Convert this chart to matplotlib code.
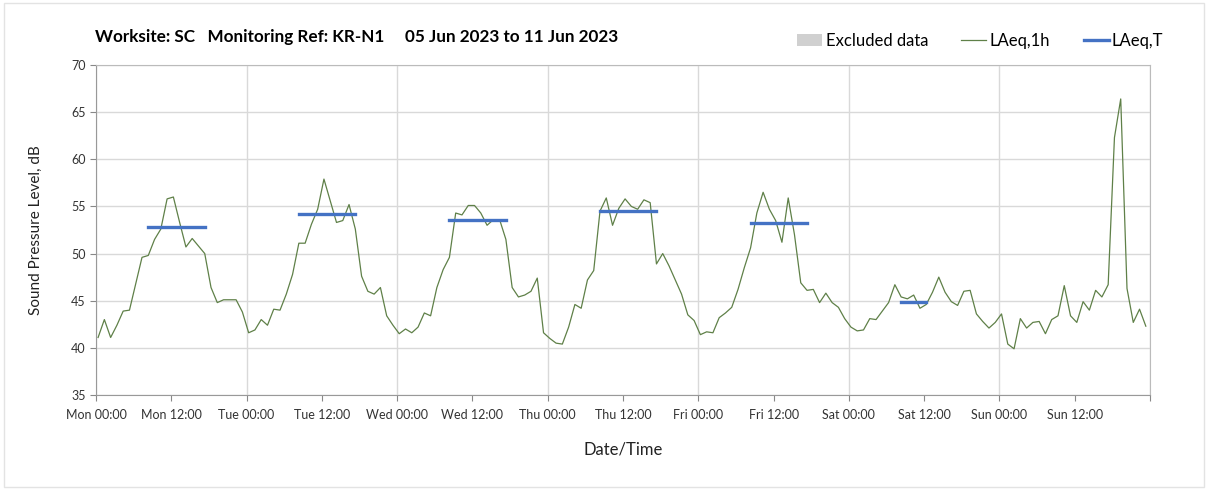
import pandas as pd
import matplotlib
matplotlib.use("Agg")
import matplotlib.pyplot as plt
import matplotlib.dates as mdates
from matplotlib.patches import Patch, Rectangle
from matplotlib.lines import Line2D

plt.rcParams['font.family'] = ['Lato', 'DejaVu Sans']

# hourly LAeq,1h values, one list per day (05-11 Jun 2023)
mon = [41.1, 43.0, 41.1, 42.4, 43.9, 44.0, 46.8, 49.6, 49.8, 51.5, 52.6, 55.8,
       56.0, 53.3, 50.7, 51.6, 50.8, 50.0, 46.4, 44.8, 45.1, 45.1, 45.1, 43.8]
tue = [41.6, 41.9, 43.0, 42.4, 44.1, 44.0, 45.7, 47.8, 51.1, 51.1, 53.1, 54.7,
       57.9, 55.6, 53.3, 53.5, 55.2, 52.6, 47.6, 46.0, 45.7, 46.4, 43.4, 42.4]
wed = [41.5, 42.0, 41.6, 42.2, 43.7, 43.4, 46.4, 48.3, 49.6, 54.3, 54.1, 55.1,
       55.1, 54.3, 53.0, 53.6, 53.6, 51.5, 46.4, 45.4, 45.6, 46.0, 47.4, 41.6]
thu = [41.0, 40.5, 40.4, 42.2, 44.6, 44.2, 47.2, 48.2, 54.5, 55.9, 53.0, 54.8,
       55.8, 55.0, 54.7, 55.7, 55.4, 48.9, 50.0, 48.7, 47.2, 45.7, 43.5, 42.9]
fri = [41.4, 41.7, 41.6, 43.2, 43.7, 44.3, 46.2, 48.5, 50.6, 54.3, 56.5, 54.7,
       53.5, 51.2, 55.9, 52.0, 46.9, 46.1, 46.2, 44.8, 45.8, 44.8, 44.3, 43.1]
sat = [42.2, 41.8, 41.9, 43.1, 43.0, 43.9, 44.8, 46.7, 45.4, 45.2, 45.6, 44.2,
       44.6, 45.9, 47.5, 45.9, 44.9, 44.5, 46.0, 46.1, 43.6, 42.8, 42.1, 42.7]
sun = [43.6, 40.4, 39.9, 43.1, 42.1, 42.7, 42.8, 41.5, 43.0, 43.4, 46.6, 43.4,
       42.7, 44.9, 44.0, 46.1, 45.4, 46.7, 62.3, 66.4, 46.3, 42.7, 44.1, 42.3]
laeq_1h = mon + tue + wed + thu + fri + sat + sun

# LAeq,T periods (start / end of each assessed period) and levels
period_start = ["2023-06-05 08:20", "2023-06-06 08:20", "2023-06-07 08:20",
                "2023-06-08 08:20", "2023-06-09 08:20", "2023-06-10 08:20"]
period_end = ["2023-06-05 17:20", "2023-06-06 17:20", "2023-06-07 17:20",
              "2023-06-08 17:20", "2023-06-09 17:20", "2023-06-10 12:20"]
laeq_t = [52.8, 54.2, 53.6, 54.5, 53.2, 44.9]

times = pd.date_range("2023-06-05 00:20", periods=len(laeq_1h), freq="h")

green = '#5f8048'
blue = '#4472c4'
grid = '#d9d9d9'

fig = plt.figure(figsize=(12.08, 4.9), dpi=100)
ax = fig.add_axes([96 / 1208, 1 - 395 / 490, (1150 - 96) / 1208, 330 / 490])

ax.plot(times, laeq_1h, color=green, linewidth=0.9)
for s, e, v in zip(period_start, period_end, laeq_t):
    ax.plot([pd.Timestamp(s), pd.Timestamp(e)], [v, v], color=blue,
            linewidth=2.4, solid_capstyle='projecting')

ax.set_xlim(pd.Timestamp("2023-06-05 00:00"), pd.Timestamp("2023-06-12 00:00"))
ax.set_ylim(35, 70)
ax.set_yticks(range(35, 71, 5))
ax.xaxis.set_major_locator(mdates.HourLocator(byhour=[0, 12]))
ticks = ax.get_xticks()
ax.set_xticks(ticks)
labels = [mdates.num2date(t).strftime("%a %H:%M") for t in ticks]
labels[-1] = ""
ax.set_xticklabels(labels)

# vertical grid only at midnight
for t in ticks[::2]:
    ax.axvline(t, color=grid, linewidth=1.0, zorder=0)
ax.yaxis.grid(True, color=grid, linewidth=1.0)
ax.set_axisbelow(True)

ax.tick_params(axis='both', labelsize=9, colors='#888888', labelcolor='#333333',
               length=4, width=0.8)
ax.tick_params(axis='x', pad=6)
for pos in ['left', 'bottom']:
    ax.spines[pos].set_color('#999999')
for pos in ['top', 'right']:
    ax.spines[pos].set_color('#bbbbbb')

ax.set_ylabel("Sound Pressure Level, dB", fontsize=11, color='#222222', labelpad=20)
ax.set_xlabel("Date/Time", fontsize=12, color='#222222', labelpad=15)

fig.text(95 / 1208, 1 - 37 / 490,
         "Worksite: SC   Monitoring Ref: KR-N1     05 Jun 2023 to 11 Jun 2023",
         fontsize=12.3, fontweight='bold', va='center', ha='left')

handles = [Patch(facecolor='#d0d0d0', edgecolor='none'),
           Line2D([], [], color=green, linewidth=0.9),
           Line2D([], [], color=blue, linewidth=2.4)]
fig.legend(handles, ["Excluded data", "LAeq,1h", "LAeq,T"], ncol=3,
           loc='center right', bbox_to_anchor=(1170 / 1208, 1 - 41 / 490),
           frameon=False, fontsize=12, handlelength=1.5, handletextpad=0.2,
           columnspacing=2.0, borderaxespad=0)

fig.add_artist(Rectangle((0.003, 0.006), 0.994, 0.988, transform=fig.transFigure,
                         fill=False, edgecolor='#e3e3e3', linewidth=1))

plt.savefig("out.png", dpi=100)
